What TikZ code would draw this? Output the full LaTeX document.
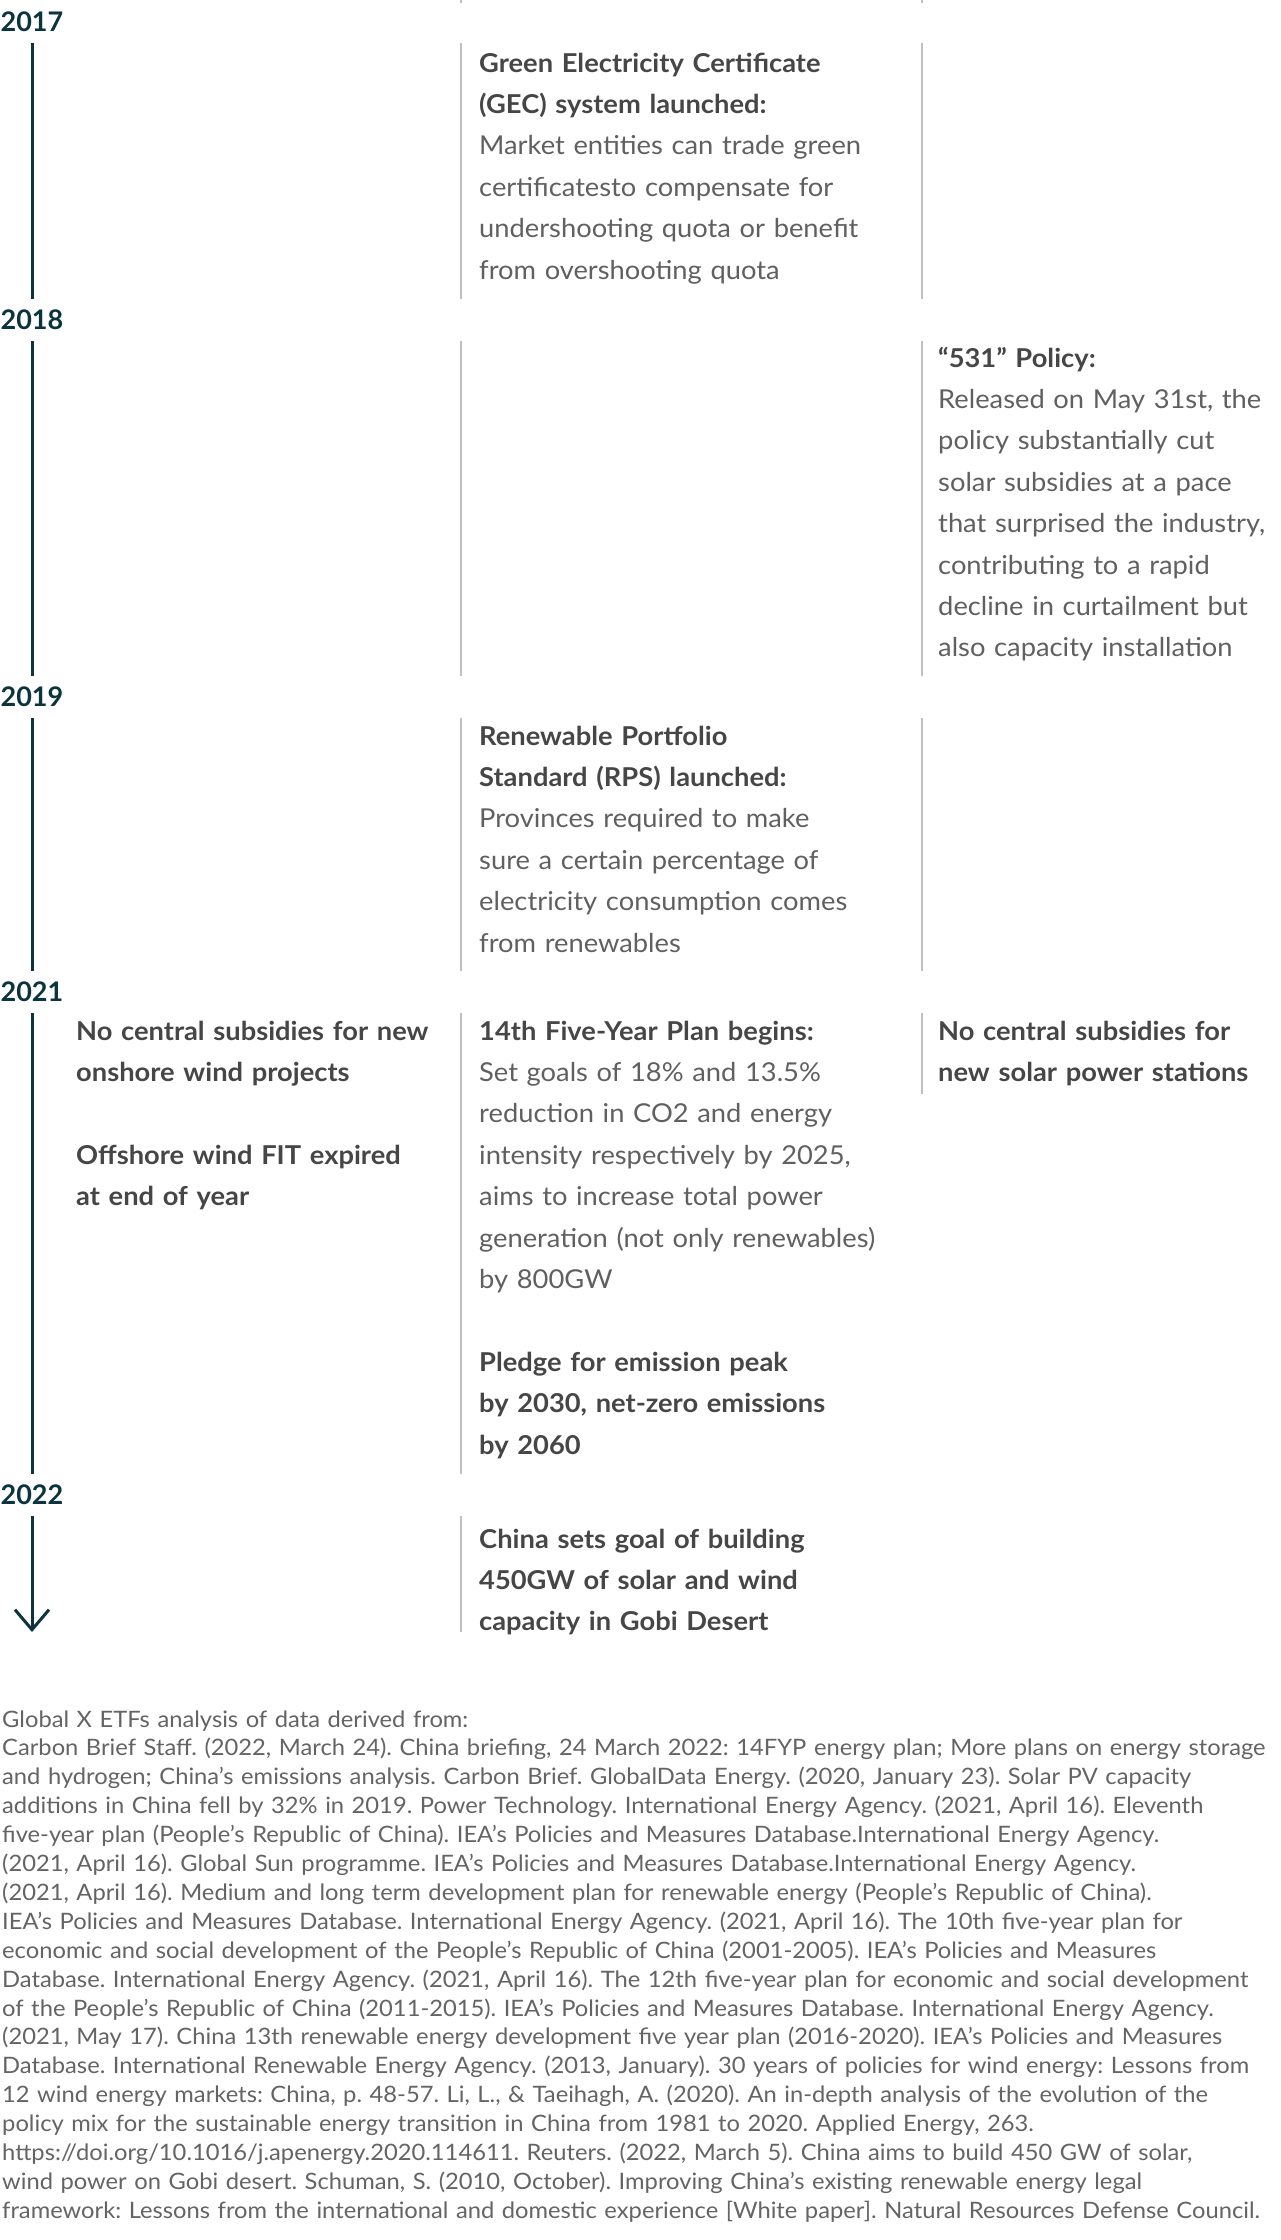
\documentclass[tikz,border=0pt]{standalone}
\usepackage{fontspec}
\setmainfont{Lato}
\newfontfamily\widelato{Lato}[FakeStretch=1.05]
\usetikzlibrary{arrows.meta, positioning}

\definecolor{tlteal}{RGB}{12,52,62}
\definecolor{headgrey}{RGB}{70,70,70}
\definecolor{bodygrey}{RGB}{96,96,96}
\definecolor{rulegrey}{RGB}{192,192,192}
\definecolor{notegrey}{RGB}{100,100,100}

\newcommand{\hd}[1]{\textcolor{headgrey}{\bfseries #1}}

\tikzset{
    spine/.style={line width=3pt, draw=tlteal},
    divider/.style={line width=1.5pt, draw=rulegrey},
    yearlab/.style={font=\bfseries\fontsize{27}{30}\selectfont, text=tlteal, inner xsep=0pt, inner ysep=11pt},
    entry/.style={anchor=base west, inner sep=0pt, text width=440pt, align=left, text=bodygrey, font=\widelato\fontsize{26}{41.4}\selectfont},
    srcnote/.style={anchor=base west, inner sep=0pt, text width=1400pt, align=left, text=notegrey, font=\widelato\frenchspacing\fontsize{22.6}{28.9}\selectfont}
}

\begin{document}
\begin{tikzpicture}[x=1pt, y=-1pt]
    \fill[white] (0,0) rectangle (1280,2240);
    \useasboundingbox (0,0) rectangle (1280,2240);

    \coordinate (colB) at (461,0);
    \coordinate (colC) at (922,0);

    % years on the spine
    \node[yearlab] (y2017) at (32,22) {2017};
    \node[yearlab] (y2018) at (32,320) {2018};
    \node[yearlab] (y2019) at (32,697) {2019};
    \node[yearlab] (y2021) at (32,992) {2021};
    \node[yearlab] (y2022) at (32,1495) {2022};
    \coordinate (tlend) at (32,1632);

    % events
    \node[entry] (gec17) at (479,72) {\hd{Green Electricity Certificate\\(GEC) system launched:}\\Market entities can trade green\\certificatesto compensate for\\undershooting quota or benefit\\from overshooting quota};
    \node[entry] (p531) at (938,367) {\hd{“531” Policy:}\\Released on May 31st, the\\policy substantially cut\\solar subsidies at a pace\\that surprised the industry,\\contributing to a rapid\\decline in curtailment but\\also capacity installation};
    \node[entry] (rps19) at (479,745) {\hd{Renewable Portfolio\\Standard (RPS) launched:}\\Provinces required to make\\sure a certain percentage of\\electricity consumption comes\\from renewables};
    \node[entry] (wind21) at (76,1040) {\hd{No central subsidies for new\\onshore wind projects\\[41.4pt]Offshore wind FIT expired\\at end of year}};
    \node[entry] (fyp21) at (479,1040) {\hd{14th Five-Year Plan begins:}\\Set goals of 18\% and 13.5\%\\reduction in CO2 and energy\\intensity respectively by 2025,\\aims to increase total power\\generation (not only renewables)\\by 800GW\\[41.4pt]\hd{Pledge for emission peak\\by 2030, net-zero emissions\\by 2060}};
    \node[entry] (solar21) at (938,1040) {\hd{No central subsidies for\\new solar power stations}};
    \node[entry] (gobi22) at (479,1548) {\hd{China sets goal of building\\450GW of solar and wind\\capacity in Gobi Desert}};

    % spine
    \draw[spine] (y2017) -- (y2018);
    \draw[spine] (y2018) -- (y2019);
    \draw[spine] (y2019) -- (y2021);
    \draw[spine] (y2021) -- (y2022);
    \draw[spine, -{Straight Barb[length=20pt, width=34pt]}] (y2022) -- (tlend);

    % column rules
    \draw[divider] (461,0) -- (461,3);
    \draw[divider] (922,0) -- (922,3);
    \draw[divider] (y2017.south -| colB) -- (y2018.north -| colB);
    \draw[divider] (y2017.south -| colC) -- (y2018.north -| colC);
    \draw[divider] (y2018.south -| colB) -- (y2019.north -| colB);
    \draw[divider] (y2018.south -| colC) -- (y2019.north -| colC);
    \draw[divider] (y2019.south -| colB) -- (y2021.north -| colB);
    \draw[divider] (y2019.south -| colC) -- (y2021.north -| colC);
    \draw[divider] (y2021.south -| colB) -- (y2022.north -| colB);
    \draw[divider] (y2021.south -| colC) -- ([yshift=-8pt]solar21.south -| colC);
    \draw[divider] (y2022.south -| colB) -- (tlend -| colB);

    % sources
    \node[srcnote] (sources) at (2,1727) {Global X ETFs analysis of data derived from:\\
Carbon Brief Staff. (2022, March 24). China briefing, 24 March 2022: 14FYP energy plan; More plans on energy storage\\
and hydrogen; China’s emissions analysis. Carbon Brief. GlobalData Energy. (2020, January 23). Solar PV capacity\\
additions in China fell by 32\% in 2019. Power Technology. International Energy Agency. (2021, April 16). Eleventh\\
five-year plan (People’s Republic of China). IEA’s Policies and Measures Database.International Energy Agency.\\
(2021, April 16). Global Sun programme. IEA’s Policies and Measures Database.International Energy Agency.\\
(2021, April 16). Medium and long term development plan for renewable energy (People’s Republic of China).\\
IEA’s Policies and Measures Database. International Energy Agency. (2021, April 16). The 10th five-year plan for\\
economic and social development of the People’s Republic of China (2001-2005). IEA’s Policies and Measures\\
Database. International Energy Agency. (2021, April 16). The 12th five-year plan for economic and social development\\
of the People’s Republic of China (2011-2015). IEA’s Policies and Measures Database. International Energy Agency.\\
(2021, May 17). China 13th renewable energy development five year plan (2016-2020). IEA’s Policies and Measures\\
Database. International Renewable Energy Agency. (2013, January). 30 years of policies for wind energy: Lessons from\\
12 wind energy markets: China, p. 48-57. Li, L., \& Taeihagh, A. (2020). An in-depth analysis of the evolution of the\\
policy mix for the sustainable energy transition in China from 1981 to 2020. Applied Energy, 263.\\
https://doi.org/10.1016/j.apenergy.2020.114611. Reuters. (2022, March 5). China aims to build 450 GW of solar,\\
wind power on Gobi desert. Schuman, S. (2010, October). Improving China’s existing renewable energy legal\\
framework: Lessons from the international and domestic experience [White paper]. Natural Resources Defense Council.};
\end{tikzpicture}
\end{document}
